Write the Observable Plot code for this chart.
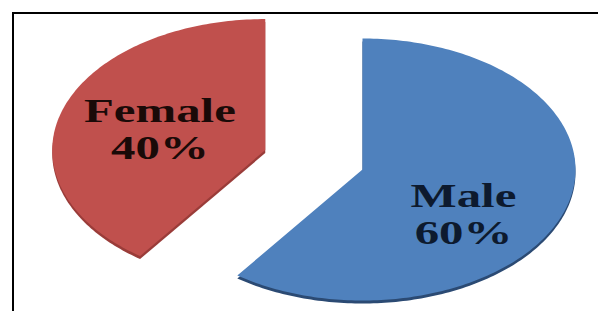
<!DOCTYPE html>
<html>
<head>
<meta charset="utf-8">
<script src="https://cdn.jsdelivr.net/npm/d3@7"></script>
<script src="https://cdn.jsdelivr.net/npm/@observablehq/plot@0.6"></script>
<style>
  html, body { margin: 0; padding: 0; background: #fff; }
  #wrap { position: relative; width: 598px; height: 311px; overflow: hidden; }
  #frame { position: absolute; left: 12px; top: 12px; width: 600px; height: 320px;
           border-top: 2px solid #000; border-left: 2px solid #000; pointer-events: none; }
</style>
</head>
<body>
<div id="wrap"><div id="frame"></div></div>
<script>
// ---- data ----
const categories = ["Male", "Female"];
const percents = [60, 40];
const labels = ["Male\n60%", "Female\n40%"];
const colors = ["#4F81BD", "#C0504D"];
const sideColors = ["#2B4A73", "#9A3C39"];
const explode = [0, 0.48];

// ---- geometry from data (angles clockwise from 12 o'clock) ----
const total = d3.sum(percents);
let acc = 0;
const slices = categories.map((c, i) => {
  const a0 = acc / total * 2 * Math.PI;
  acc += percents[i];
  const a1 = acc / total * 2 * Math.PI;
  const mid = (a0 + a1) / 2;
  const cx = explode[i] * Math.sin(mid);
  const cy = explode[i] * Math.cos(mid);
  const pts = [{x: cx, y: cy}];
  const n = Math.max(8, Math.round((a1 - a0) / (Math.PI / 180)));
  for (let k = 0; k <= n; k++) {
    const a = a0 + (a1 - a0) * k / n;
    pts.push({x: cx + Math.sin(a), y: cy + Math.cos(a)});
  }
  // label placement: along bisector, nudged toward the visual body
  const la = i === 0 ? mid + 0.3 : mid;
  const lr = i === 0 ? 0.58 : 0.52;
  return {c, i, pts, label: labels[i],
          lx: cx + lr * Math.sin(la), ly: cy + lr * Math.cos(la)};
});

const depth = 3 / 131;
const marks = [];
slices.forEach(s => {
  marks.push(Plot.line(s.pts, {x: "x", y: d => d.y - depth, curve: "linear-closed",
    fill: sideColors[s.i], stroke: "none"}));
});
slices.forEach(s => {
  marks.push(Plot.line(s.pts, {x: "x", y: "y", curve: "linear-closed",
    fill: colors[s.i], stroke: "none"}));
});
marks.push(Plot.text(slices, {x: "lx", y: "ly", text: "label",
  fontFamily: "Liberation Serif", fontWeight: "bold", fontSize: 33, lineHeight: 1.12,
  fill: d => d.i === 0 ? "#0d1a2e" : "#1a0a08"}));

const plot = Plot.plot({
  width: 598, height: 311,
  marginTop: 0, marginRight: 0, marginBottom: 0, marginLeft: 0,
  x: {domain: [-1.6995, 1.108], axis: null},
  y: {domain: [-1.084, 1.290], axis: null},
  color: {type: "identity"},
  style: {background: "transparent", overflow: "visible"},
  marks
});
plot.querySelectorAll('g[aria-label="text"] text').forEach(t => {
  t.setAttribute("transform", (t.getAttribute("transform") || "") + " scale(1.48,1)");
});
document.getElementById("wrap").insertBefore(plot, document.getElementById("frame"));
</script>
</body>
</html>
